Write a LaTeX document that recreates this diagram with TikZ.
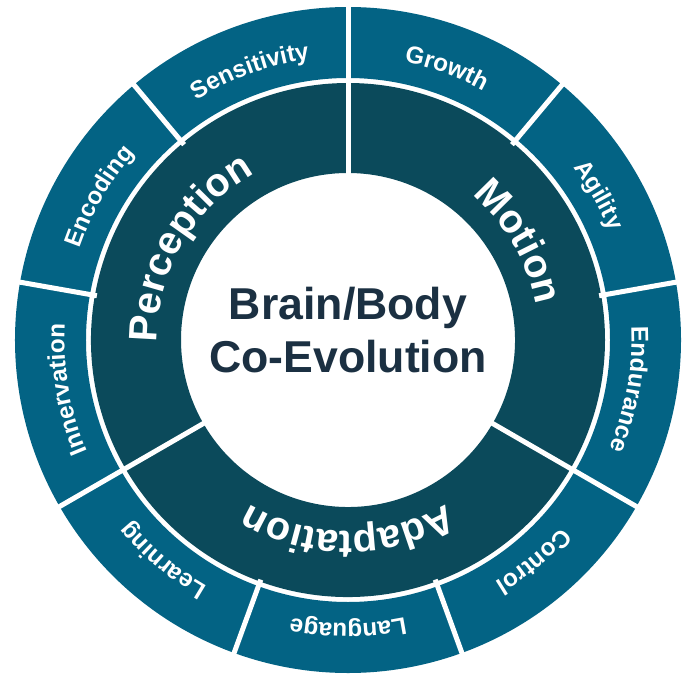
\documentclass[tikz,border=0pt]{standalone}
\usepackage{fontspec}
\setmainfont{Liberation Sans}
\usetikzlibrary{decorations.text}

\newcommand{\innerfont}{\bfseries\fontsize{22.6}{27}\selectfont}
\newcommand{\outerfont}{\bfseries\fontsize{13.8}{16}\selectfont}

\begin{document}
\begin{tikzpicture}

	% Define colors
	\definecolor{outerblue}{HTML}{036384}
	\definecolor{innerblue}{HTML}{0B4A5B}
	\definecolor{titletext}{HTML}{1B3042}

	\useasboundingbox (-6.96,-6.74) rectangle (6.82,6.80);

	% Draw the inner ring
	\foreach \a [evaluate=\a as \b using \a+120] in {90, 210, 330} {
		\fill[innerblue] (\a:3.34) arc[start angle=\a, end angle=\b, radius=3.34]
			-- (\b:5.14) arc[start angle=\b, end angle=\a, radius=5.14] -- cycle;
	}

	% Draw the outer ring
	\foreach \a [evaluate=\a as \b using \a+40] in {10, 50, ..., 330} {
		\fill[outerblue] (\a:5.24) arc[start angle=\a, end angle=\b, radius=5.24]
			-- (\b:6.66) arc[start angle=\b, end angle=\a, radius=6.66] -- cycle;
	}

	% Draw the white gaps
	\foreach \a in {10, 50, 130, 170, 250, 290} {
		\draw[white, line width=1mm] (\a:5.1) -- (\a:6.8);
	}
	\foreach \a in {90, 210, 330} {
		\draw[white, line width=1mm] (\a:3.2) -- (\a:6.8);
	}

	% Inner labels
	\foreach \a/\t in {150/Perception, 30/Motion, 270/Adaptation} {
		\path[decorate, decoration={text along path, text align=center, text color=white,
			text/.expanded={|\noexpand\innerfont|\t}}]
			(\a+60:3.82) arc[start angle=\a+60, end angle=\a-60, radius=3.82];
	}

	% Outer labels
	\foreach \a/\t in {110/Sensitivity, 150/Encoding, 190/Innervation, 70/Growth, 30/Agility,
		-10/Endurance, -50/Control, -90/Language, -130/Learning} {
		\path[decorate, decoration={text along path, text align=center, text color=white,
			text/.expanded={|\noexpand\outerfont|\t}}]
			(\a+19:5.67) arc[start angle=\a+19, end angle=\a-19, radius=5.67];
	}

	% Title
	\node[text=titletext, font=\bfseries\fontsize{25.4}{30}\selectfont, align=center]
		(title) at (0,0.2) {Brain/Body\\Co-Evolution};

\end{tikzpicture}
\end{document}
